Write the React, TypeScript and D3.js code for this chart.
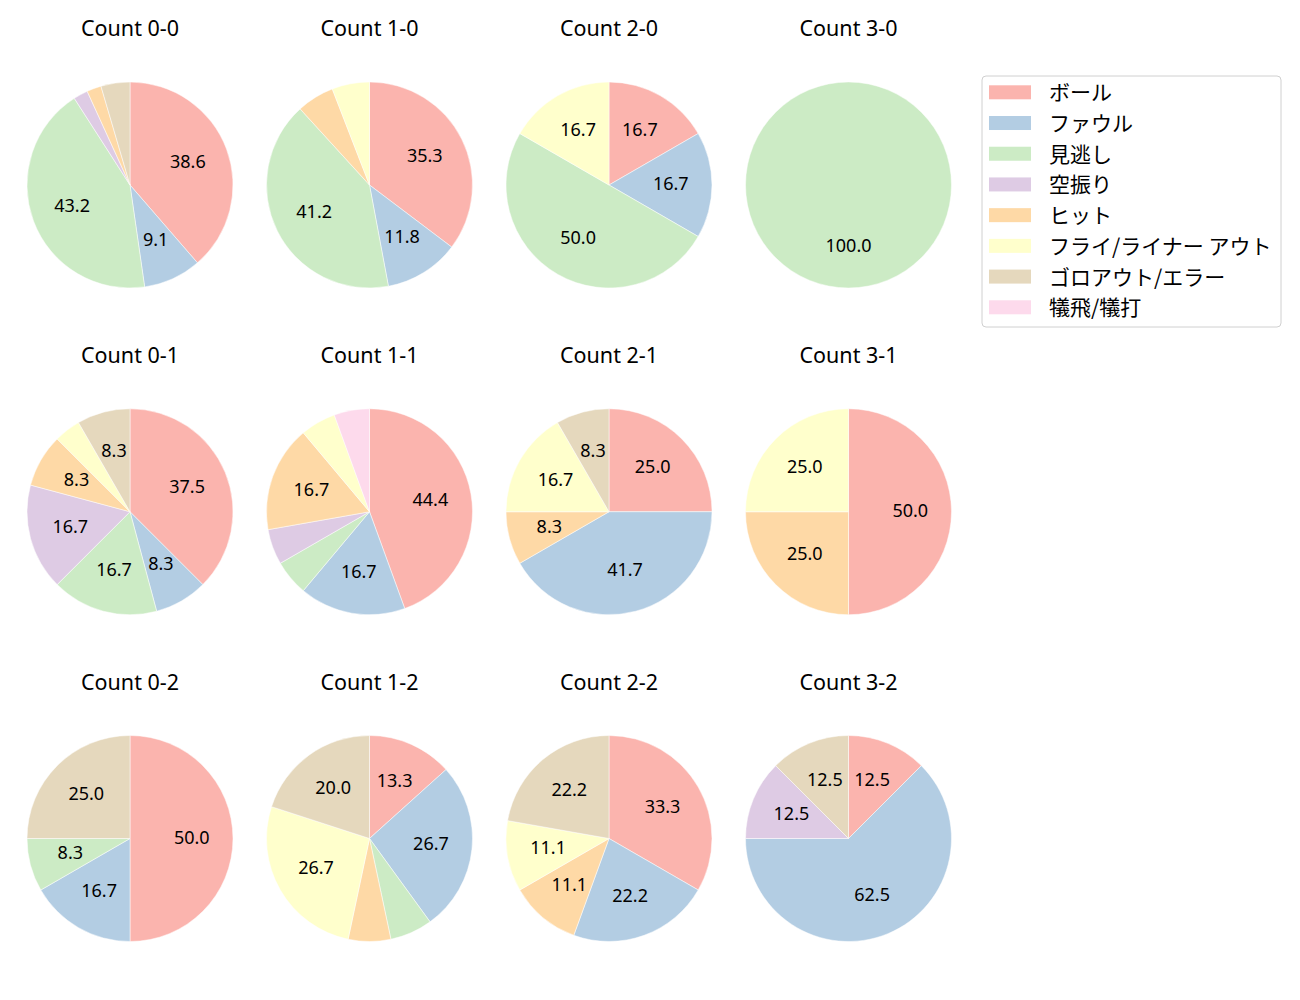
import React from 'react';
import * as d3 from 'd3';

// pitch result categories (legend order)
const categories = ['ボール', 'ファウル', '見逃し', '空振り', 'ヒット', 'フライ/ライナー アウト', 'ゴロアウト/エラー', '犠飛/犠打'];
const colors = ['#fbb4ae', '#b3cde3', '#ccebc5', '#decbe4', '#fed9a6', '#ffffcc', '#e5d8bd', '#fddaec'];

const balls = [0, 1, 2, 3];
const strikes = [0, 1, 2];

// pitch counts per category, keyed "balls-strikes"
const count00 = [17, 4, 19, 1, 1, 0, 2, 0];
const count10 = [6, 2, 7, 0, 1, 1, 0, 0];
const count20 = [1, 1, 3, 0, 0, 1, 0, 0];
const count30 = [0, 0, 1, 0, 0, 0, 0, 0];
const count01 = [9, 2, 4, 4, 2, 1, 2, 0];
const count11 = [8, 3, 1, 1, 3, 1, 0, 1];
const count21 = [3, 5, 0, 0, 1, 2, 1, 0];
const count31 = [2, 0, 0, 0, 1, 1, 0, 0];
const count02 = [6, 2, 1, 0, 0, 0, 3, 0];
const count12 = [2, 4, 1, 0, 1, 4, 3, 0];
const count22 = [3, 2, 0, 0, 1, 1, 2, 0];
const count32 = [1, 5, 0, 1, 0, 0, 1, 0];

const countData: Record<string, number[]> = {
  '0-0': count00, '1-0': count10, '2-0': count20, '3-0': count30,
  '0-1': count01, '1-1': count11, '2-1': count21, '3-1': count31,
  '0-2': count02, '1-2': count12, '2-2': count22, '3-2': count32,
};

const FONT = '"Noto Sans", "Noto Sans CJK JP", sans-serif';
const LEGEND_FONT = '"Noto Sans CJK JP", "Noto Sans", sans-serif';

const R = 103;
const colX = d3.scaleLinear().domain([0, 3]).range([130, 848.5]);
const rowY = d3.scaleLinear().domain([0, 2]).range([185, 838.5]);

const pie = d3.pie<number>().sort(null).value(d => d);
const arc = d3.arc<d3.PieArcDatum<number>>().innerRadius(0).outerRadius(R);
const labelArc = d3.arc<d3.PieArcDatum<number>>().innerRadius(R * 0.6).outerRadius(R * 0.6);

const Pie = ({ b, s }: { b: number; s: number }) => {
  const values = countData[`${b}-${s}`];
  const total = d3.sum(values);
  const arcs = pie(values);
  const cx = colX(b);
  const cy = rowY(s);
  return (
    <g>
      <text x={cx} y={cy - 149} textAnchor="middle" fontSize={21.5} fontFamily={FONT} fill="#000">
        {`Count ${b}-${s}`}
      </text>
      <g transform={`translate(${cx},${cy})`}>
        {arcs.map((a, i) => a.value > 0 && (
          <path key={i} d={arc(a) || ''} fill={colors[i]} stroke="#fff" strokeWidth={0.5} />
        ))}
        {arcs.map((a, i) => {
          const pct = (a.value / total) * 100;
          if (pct < 7) return null;
          const [lx, ly] = labelArc.centroid(a);
          return (
            <text key={`t${i}`} x={lx} y={ly - 2} textAnchor="middle" dominantBaseline="central"
              fontSize={18} fontFamily={FONT} fill="#000">
              {pct.toFixed(1)}
            </text>
          );
        })}
      </g>
    </g>
  );
};

const legendY = d3.scaleLinear().domain([0, 7]).range([92.3, 307.3]);

const App = () => (
  <div style={{ position: 'absolute', left: 0, top: 0 }}>
    <svg width={1300} height={1000} style={{ display: 'block', background: '#fff' }}>
      {strikes.map(s => balls.map(b => <Pie key={`${b}-${s}`} b={b} s={s} />))}
      <g>
        <rect x={982} y={76} width={299} height={251} rx={4} fill="#fff" fillOpacity={0.8} stroke="#d0d0d0" />
        {categories.map((c, i) => (
          <g key={c}>
            <rect x={989} y={legendY(i) - 7} width={42} height={14} fill={colors[i]} />
            <text x={1049} y={legendY(i) - 1} dominantBaseline="central" fontSize={21} fontFamily={LEGEND_FONT} fill="#000">
              {c}
            </text>
          </g>
        ))}
      </g>
    </svg>
  </div>
);

export default App;
